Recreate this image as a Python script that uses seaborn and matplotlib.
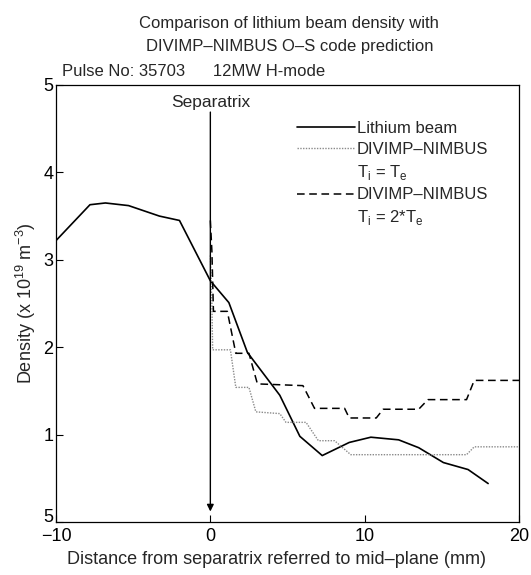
import pandas as pd
import seaborn as sns
import matplotlib
matplotlib.use('Agg')
import matplotlib.pyplot as plt
import matplotlib.transforms as mtransforms
from matplotlib.lines import Line2D

# lithium beam profile (mm from separatrix, density 1e19 m^-3)
li_x = [-10, -7.8, -6.8, -5.3, -3.3, -2.0, 0.0, 1.2, 2.4, 4.5, 5.8, 7.25, 9.0, 10.4, 12.2, 13.5, 15.1, 16.7, 18.0]
li_y = [3.22, 3.63, 3.65, 3.62, 3.50, 3.45, 2.76, 2.51, 1.94, 1.45, 0.98, 0.76, 0.91, 0.97, 0.94, 0.85, 0.68, 0.60, 0.44]

# DIVIMP-NIMBUS, Ti = Te
te_x = [0.0, 0.1, 0.15, 1.3, 1.65, 2.5, 2.95, 4.5, 4.9, 6.2, 7.0, 8.05, 9.1, 16.6, 17.1, 20.0]
te_y = [3.05, 2.5, 1.97, 1.97, 1.54, 1.54, 1.26, 1.24, 1.14, 1.14, 0.93, 0.93, 0.77, 0.77, 0.86, 0.86]

# DIVIMP-NIMBUS, Ti = 2*Te
te2_x = [0.0, 0.1, 0.2, 1.1, 1.65, 2.5, 3.05, 6.0, 6.75, 8.7, 9.0, 10.75, 11.2, 13.5, 14.1, 16.6, 17.1, 20.0]
te2_y = [3.45, 3.1, 2.41, 2.41, 1.93, 1.93, 1.58, 1.56, 1.30, 1.30, 1.19, 1.19, 1.29, 1.29, 1.40, 1.40, 1.62, 1.62]

y_ticks = [0, 1, 2, 3, 4, 5]
y_tick_labels = ['5', '1', '2', '3', '4', '5']
x_ticks = [-10, 0, 10, 20]
x_tick_labels = ['\u221210', '0', '10', '20']

sns.set_theme(style='ticks')
plt.rcParams['font.family'] = ['Liberation Sans', 'DejaVu Sans']
plt.rcParams['mathtext.fontset'] = 'custom'
plt.rcParams['mathtext.rm'] = 'Liberation Sans'

fig = plt.figure(figsize=(5.31, 5.75), dpi=100)
ax = fig.add_axes([0.1055, 0.0922, 0.8719, 0.76])

li = pd.DataFrame({'x': li_x, 'y': li_y})
te = pd.DataFrame({'x': te_x, 'y': te_y})
te2 = pd.DataFrame({'x': te2_x, 'y': te2_y})

dot_style = (0, (1, 1))
dash_style = (0, (5, 3))

sns.lineplot(data=li, x='x', y='y', ax=ax, sort=False, estimator=None,
             color='black', lw=1.2)
sns.lineplot(data=te, x='x', y='y', ax=ax, sort=False, estimator=None,
             color='#8a8a8a', lw=1.0, linestyle=dot_style)
sns.lineplot(data=te2, x='x', y='y', ax=ax, sort=False, estimator=None,
             color='black', lw=1.1, linestyle=dash_style)

# separatrix marker
ax.annotate('', xy=(0, 0.12), xytext=(0, 4.69),
            arrowprops=dict(arrowstyle='-|>', color='black', lw=1.0,
                            mutation_scale=10, shrinkA=0, shrinkB=0))
ax.text(0, 4.8, 'Separatrix', ha='center', va='center', fontsize=12.5)

ax.set_xlim(-10, 20)
ax.set_ylim(0, 5)
ax.set_xticks(x_ticks)
ax.set_xticklabels(x_tick_labels)
ax.set_yticks(y_ticks)
ax.set_yticklabels(y_tick_labels)
ax.tick_params(direction='in', length=5, width=0.8, labelsize=13, colors='black')
ax.tick_params(axis='y', pad=2)
ax.tick_params(axis='x', pad=4)
# the bottom "5" sits a little above the axis line
lab0 = ax.get_yticklabels()[0]
lab0.set_transform(lab0.get_transform() +
                   mtransforms.ScaledTranslation(0, 5 / 72, fig.dpi_scale_trans))
for s in ax.spines.values():
    s.set_linewidth(0.9)
    s.set_color('black')

ax.set_xlabel('Distance from separatrix referred to mid\u2013plane (mm)', fontsize=13, labelpad=5)
ax.xaxis.label.set_x(0.476)
ax.set_ylabel('Density (x 10$^{19}$ m$^{-3}$)', fontsize=13, labelpad=4)

fig.text(0.545, 0.939, 'Comparison of lithium beam density with\nDIVIMP\u2013NIMBUS O\u2013S code prediction',
         ha='center', va='center', fontsize=12, linespacing=1.65)
fig.text(0.117, 0.875, 'Pulse No: 35703      12MW H-mode', ha='left', va='center', fontsize=12)

blank = Line2D([], [], color='none')
handles = [Line2D([], [], color='black', lw=1.2),
           Line2D([], [], color='#8a8a8a', lw=1.0, linestyle=dot_style),
           blank,
           Line2D([], [], color='black', lw=1.1, linestyle=dash_style),
           blank]
labels = ['Lithium beam', 'DIVIMP\u2013NIMBUS', 'T$_\\mathrm{i}$ = T$_\\mathrm{e}$',
          'DIVIMP\u2013NIMBUS', 'T$_\\mathrm{i}$ = 2*T$_\\mathrm{e}$']
ax.legend(handles, labels, loc='upper left', bbox_to_anchor=(0.506, 0.933),
          frameon=False, fontsize=12, handlelength=3.5, handletextpad=0.1,
          labelspacing=0.35, borderaxespad=0)

fig.savefig('out.png', dpi=100)
